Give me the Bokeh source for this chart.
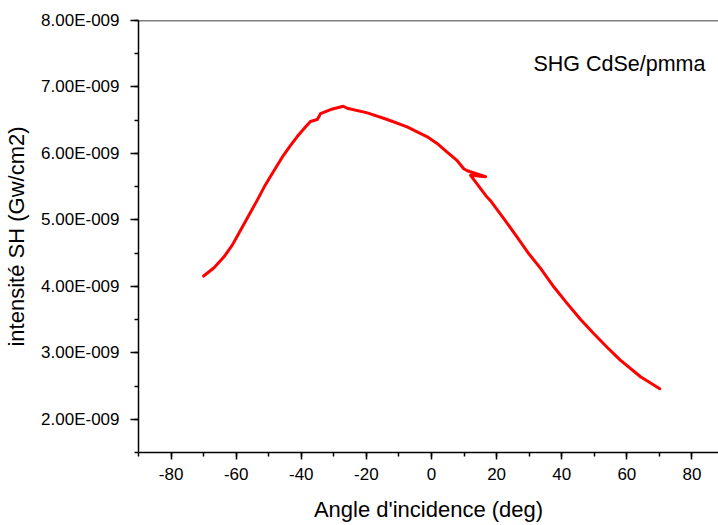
from bokeh.plotting import figure
from bokeh.models import Range1d, SingleIntervalTicker, CustomJSTickFormatter, Label, Span
from bokeh.embed import file_html
from bokeh.resources import INLINE

# ---- data ----
angle = [-70.0, -66.8, -63.8, -61.2, -58.7, -56.1, -53.6, -51.0, -48.4, -45.9,
         -43.3, -41.3, -39.2, -37.2, -35.1, -34.6, -34.1, -31.0, -27.1, -25.9,
         -19.7, -13.6, -7.5, -1.3, 1.7, 4.8, 7.9, 9.9, 11.0, 16.6,
         12.0, 17.1, 18.1, 22.2, 26.3, 29.9, 33.5, 37.6, 41.7, 45.8,
         49.8, 54.0, 58.0, 64.2, 70.1]
intensity = [4.155e-9, 4.28e-9, 4.44e-9, 4.62e-9, 4.84e-9, 5.07e-9, 5.29e-9, 5.53e-9, 5.74e-9, 5.94e-9,
             6.12e-9, 6.25e-9, 6.37e-9, 6.48e-9, 6.51e-9, 6.55e-9, 6.60e-9, 6.66e-9, 6.71e-9, 6.68e-9,
             6.61e-9, 6.51e-9, 6.40e-9, 6.25e-9, 6.15e-9, 6.02e-9, 5.89e-9, 5.77e-9, 5.74e-9, 5.65e-9,
             5.67e-9, 5.34e-9, 5.29e-9, 5.02e-9, 4.74e-9, 4.49e-9, 4.27e-9, 3.99e-9, 3.74e-9, 3.50e-9,
             3.29e-9, 3.08e-9, 2.89e-9, 2.64e-9, 2.46e-9]

x_label = "Angle d'incidence (deg)"
y_label = "intensité SH (Gw/cm2)"
annotation_text = "SHG CdSe/pmma"
annotation_x = 31.3
annotation_y = 7.35e-9
y_max = 8.0e-9

FONT = "Liberation Sans"

p = figure(width=718, height=525, output_backend="svg", toolbar_location=None,
           x_range=Range1d(-90, 88.15), y_range=Range1d(1.5e-9, y_max),
           min_border_left=138, min_border_right=0, min_border_top=20, min_border_bottom=73)
p.outline_line_color = None
p.grid.visible = False
p.background_fill_color = "white"
p.border_fill_color = "white"

p.line(angle, intensity, line_color="#ff0000", line_width=3, line_join="round", line_cap="round")

# top frame line
p.add_layout(Span(location=y_max, dimension="width", line_color="black", line_width=1.5))

# x axis
xa = p.xaxis[0]
xa.ticker = SingleIntervalTicker(interval=20, num_minor_ticks=2)
xa.formatter = CustomJSTickFormatter(code="return String(Math.round(tick));")
xa.axis_label = x_label
xa.axis_label_text_font = FONT
xa.axis_label_text_font_size = "22px"
xa.axis_label_text_font_style = "normal"
xa.axis_label_text_color = "black"
xa.axis_label_standoff = 14
xa.major_label_text_font = FONT
xa.major_label_text_font_size = "17px"
xa.major_label_text_color = "black"
xa.major_label_standoff = 8
xa.major_tick_out = 7
xa.major_tick_in = 0
xa.minor_tick_out = 4
xa.minor_tick_in = 0
xa.axis_line_width = 1.5
xa.major_tick_line_width = 1.5
xa.minor_tick_line_width = 1.5

# y axis
ya = p.yaxis[0]
ya.ticker = SingleIntervalTicker(interval=1e-9, num_minor_ticks=2)
ya.formatter = CustomJSTickFormatter(code="return (tick/1e-9).toFixed(2) + 'E-009';")
ya.axis_label = y_label
ya.axis_label_text_font = FONT
ya.axis_label_text_font_size = "22px"
ya.axis_label_text_font_style = "normal"
ya.axis_label_text_color = "black"
ya.axis_label_standoff = 9
ya.major_label_text_font = FONT
ya.major_label_text_font_size = "17px"
ya.major_label_text_color = "black"
ya.major_label_standoff = 11
ya.major_tick_out = 8
ya.major_tick_in = 0
ya.minor_tick_out = 4
ya.minor_tick_in = 0
ya.axis_line_width = 1.5
ya.major_tick_line_width = 1.5
ya.minor_tick_line_width = 1.5

p.add_layout(Label(x=annotation_x, y=annotation_y, text=annotation_text,
                   text_font=FONT, text_font_size="21.5px", text_color="black",
                   text_baseline="alphabetic", text_align="left"))

open("out.html", "w").write(file_html(p, INLINE))
